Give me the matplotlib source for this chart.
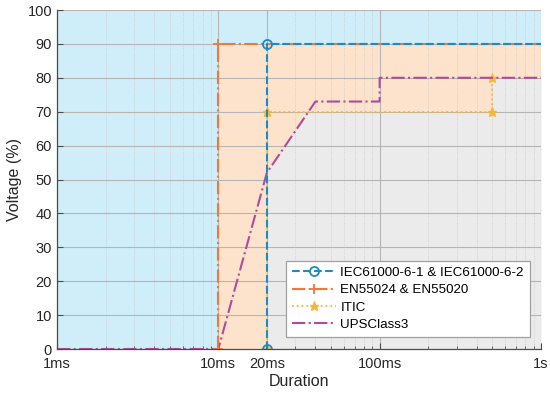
import numpy as np
import matplotlib
matplotlib.use("Agg")
import matplotlib.pyplot as plt
from matplotlib.ticker import FixedLocator, LogLocator, NullFormatter

plt.rcParams['font.family'] = ['Liberation Sans', 'DejaVu Sans']

# ---- data ----
iec_x = [0.02, 0.02, 1.0]
iec_y = [0, 90, 90]
en_x = [0.01, 0.01, 1.0]
en_y = [0, 90, 90]
itic_x = [0.02, 0.02, 0.5, 0.5]
itic_y = [0, 70, 70, 80]
ups_x = [0.001, 0.01, 0.02, 0.04, 0.1, 0.1, 1.0]
ups_y = [0, 0, 52, 73, 73, 80, 80]

# region boundaries
orange_x = [0.01, 1.0]
orange_top = [90, 90]
gray_x = [0.02, 0.0362, 0.5, 0.5, 1.0]
gray_top = [52, 70, 70, 80, 80]

xticks = [0.001, 0.01, 0.02, 0.1, 1.0]
xticklabels = ['1ms', '10ms', '20ms', '100ms', '1s']
yticks = list(range(0, 101, 10))

fig = plt.figure(figsize=(5.5, 3.97), dpi=100)
ax = fig.add_axes([0.1036, 0.1209, 0.8800, 0.8539])
ax.set_facecolor('#cfeefa')
ax.set_xscale('log')
ax.set_xlim(0.001, 1.0)
ax.set_ylim(0, 100)

ax.fill_between(orange_x, 0, orange_top, color='#fde3cb', lw=0, zorder=0.5)
ax.fill_between(gray_x, 0, gray_top, color='#ebebeb', lw=0, zorder=0.6)

ax.plot(iec_x, iec_y, linestyle='--', color='#1a8cc4', lw=1.5, marker='o',
        markevery=[0, 1], markerfacecolor='none', markersize=6.5, mew=1.3,
        label='IEC61000-6-1 & IEC61000-6-2', zorder=4)
ax.plot(en_x, en_y, linestyle='-.', color='#f2773a', lw=1.5, marker='+',
        markevery=[0, 1], markersize=7, mew=1.3,
        label='EN55024 & EN55020', zorder=3.5)
ax.plot(itic_x, itic_y, linestyle=':', color='#f7b733', lw=1.3, marker='*',
        markersize=6.5, mew=1, label='ITIC', zorder=3.2)
ax.plot(ups_x, ups_y, linestyle='-.', color='#b04a9e', lw=1.5,
        label='UPSClass3', zorder=3.3)

ax.xaxis.set_major_locator(FixedLocator(xticks))
ax.set_xticklabels(xticklabels)
ax.xaxis.set_minor_locator(LogLocator(base=10, subs=np.arange(2, 10)))
ax.xaxis.set_minor_formatter(NullFormatter())
ax.set_yticks(yticks)

ax.grid(True, which='major', color='#b5b5b5', lw=0.8, zorder=1)
ax.grid(True, which='minor', axis='x', color='#c8c8c8', lw=0.6, linestyle=':', zorder=1)
ax.set_axisbelow(False)
for l in ax.get_xgridlines() + ax.get_ygridlines():
    l.set_zorder(1)

for s in ['top', 'right']:
    ax.spines[s].set_visible(False)
for s in ['left', 'bottom']:
    ax.spines[s].set_color('#4d4d4d')
    ax.spines[s].set_linewidth(0.9)
    ax.spines[s].set_zorder(5)

ax.tick_params(axis='both', which='both', direction='in', colors='#4d4d4d',
               labelcolor='#262626', labelsize=10.5)
ax.tick_params(axis='both', which='major', length=4)
ax.tick_params(axis='x', which='minor', length=2.5)
ax.tick_params(axis='x', pad=6)

ax.set_xlabel('Duration', fontsize=11.5, color='#262626', labelpad=2)
ax.set_ylabel('Voltage (%)', fontsize=11.5, color='#262626', labelpad=4)

leg = ax.legend(loc='lower right', bbox_to_anchor=(0.977, 0.035), borderaxespad=0,
                fontsize=9.6, frameon=True, fancybox=False, edgecolor='#a0a0a0',
                framealpha=1, handlelength=3.3, borderpad=0.45,
                labelspacing=0.38, handletextpad=0.35)
leg.get_frame().set_linewidth(0.9)
leg.set_zorder(10)

fig.savefig('out.png', dpi=100)
